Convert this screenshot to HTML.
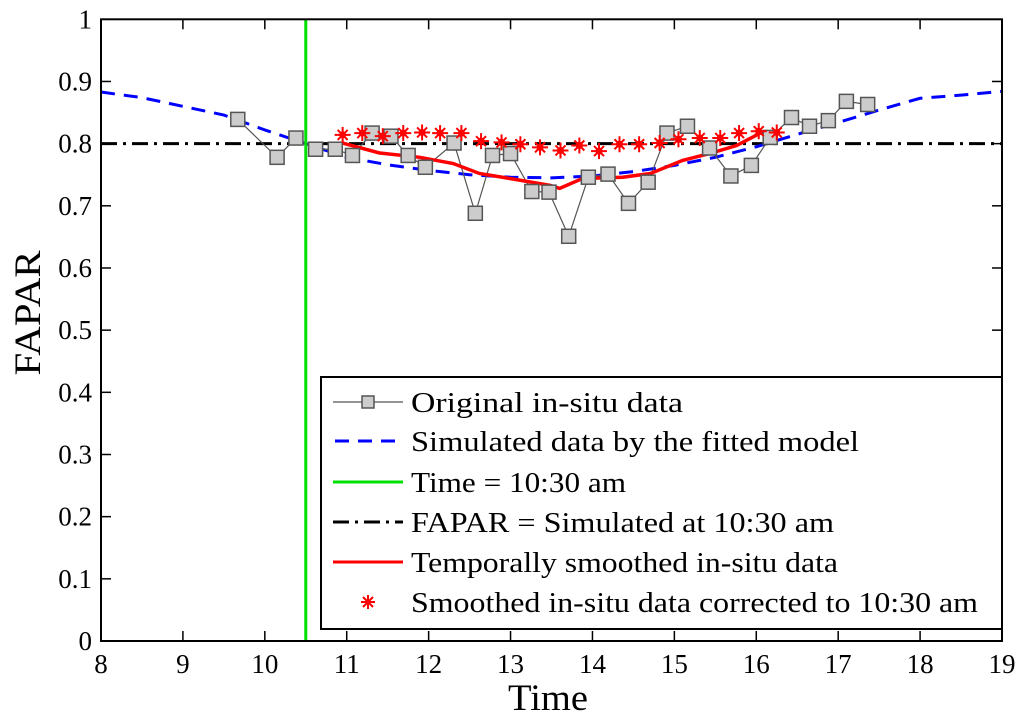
<!DOCTYPE html>
<html><head><meta charset="utf-8"><style>
body{margin:0;background:#fff;}
svg text{font-family:"Liberation Serif",serif;fill:#000;}
</style></head><body>
<svg id="chart" width="1024" height="721" xmlns="http://www.w3.org/2000/svg">
<rect x="101" y="19.3" width="901" height="621.7" fill="#fff"/>
<g id="series"></g>
<rect x="101" y="19.3" width="901" height="621.7" fill="none" stroke="#000" stroke-width="2"/>
<g id="ticks"></g>
<text x="0" y="0" font-size="37" text-anchor="middle" textLength="125" lengthAdjust="spacingAndGlyphs" transform="translate(40,313) rotate(-90)">FAPAR</text>
<text x="548" y="710" font-size="37" text-anchor="middle" textLength="80" lengthAdjust="spacingAndGlyphs">Time</text>
<g id="legend">
<rect x="321" y="377" width="681" height="252" fill="#fff" stroke="#000" stroke-width="2"/>
<g>
<line x1="333" y1="402" x2="403" y2="402" stroke="#555" stroke-width="1.3"/>
<rect x="362" y="396" width="12" height="12" fill="#ccc" stroke="#555" stroke-width="1.5"/>
<text x="411" y="412" font-size="29" textLength="272" lengthAdjust="spacingAndGlyphs">Original in-situ data</text></g>
<g>
<line x1="335" y1="441" x2="403" y2="441" stroke="#0000ff" stroke-width="3" stroke-dasharray="14,9"/>
<text x="411" y="451" font-size="29" textLength="448" lengthAdjust="spacingAndGlyphs">Simulated data by the fitted model</text></g>
<g>
<line x1="333" y1="482" x2="403" y2="482" stroke="#00e000" stroke-width="3"/>
<text x="411" y="492" font-size="29" textLength="215" lengthAdjust="spacingAndGlyphs">Time = 10:30 am</text></g>
<g>
<line x1="333" y1="522" x2="403" y2="522" stroke="#000" stroke-width="3" stroke-dasharray="16,6,3,6"/>
<text x="411" y="532" font-size="29" textLength="423" lengthAdjust="spacingAndGlyphs">FAPAR = Simulated at 10:30 am</text></g>
<g>
<line x1="333" y1="562" x2="403" y2="562" stroke="#ff0000" stroke-width="3"/>
<text x="411" y="572" font-size="29" textLength="427" lengthAdjust="spacingAndGlyphs">Temporally smoothed in-situ data</text></g>
<g stroke="#ff0000" stroke-width="2">
<line x1="361" y1="602" x2="375" y2="602"/><line x1="368" y1="595" x2="368" y2="609"/>
<line x1="363" y1="597" x2="373" y2="607"/><line x1="363" y1="607" x2="373" y2="597"/>
<text x="411" y="612" font-size="29" textLength="567" lengthAdjust="spacingAndGlyphs" stroke="none">Smoothed in-situ data corrected to 10:30 am</text></g>
</g>
</svg>
<script>
const xTicks=[8,9,10,11,12,13,14,15,16,17,18,19];
const yTicks=[0,0.1,0.2,0.3,0.4,0.5,0.6,0.7,0.8,0.9,1];
const yTickLabels=["0","0.1","0.2","0.3","0.4","0.5","0.6","0.7","0.8","0.9","1"];
const origT=[9.67,10.15,10.38,10.62,10.86,11.07,11.31,11.54,11.75,11.96,12.31,12.57,12.78,13.00,13.26,13.47,13.71,13.95,14.19,14.44,14.68,14.91,15.16,15.43,15.69,15.94,16.17,16.43,16.65,16.88,17.10,17.36];
const origV=[0.839,0.778,0.809,0.791,0.791,0.781,0.817,0.812,0.781,0.762,0.801,0.688,0.781,0.784,0.723,0.722,0.651,0.746,0.751,0.704,0.738,0.817,0.828,0.793,0.748,0.765,0.810,0.842,0.828,0.837,0.868,0.863];
const simT=[8,8.5,9,9.5,10,10.5,11,11.5,12,12.5,13,13.5,14,14.5,15,15.5,16,16.5,17,17.5,18,18.5,19];
const simV=[0.883,0.874,0.860,0.846,0.822,0.800,0.778,0.766,0.757,0.750,0.746,0.745,0.748,0.755,0.765,0.778,0.795,0.815,0.834,0.854,0.873,0.878,0.884];
const smT=[10.95,11.40,11.89,12.30,12.62,12.90,13.48,13.60,13.88,14.37,14.71,15.10,15.43,15.76,16.05,16.29];
const smV=[0.801,0.785,0.778,0.768,0.752,0.746,0.733,0.728,0.744,0.746,0.752,0.773,0.784,0.797,0.817,0.817];
const corT=[10.95,11.19,11.44,11.69,11.92,12.14,12.40,12.64,12.89,13.12,13.36,13.61,13.84,14.08,14.33,14.57,14.82,15.05,15.31,15.56,15.79,16.03,16.25];
const corV=[0.814,0.817,0.812,0.817,0.818,0.817,0.817,0.804,0.802,0.799,0.794,0.789,0.797,0.788,0.799,0.799,0.801,0.807,0.809,0.809,0.817,0.820,0.818];
const refTime=10.5;
const refFapar=0.8;

const NS="http://www.w3.org/2000/svg";
const X0=101,X1=1002,Y0=641,Y1=19.3;
function sx(t){return X0+(t-8)/11*(X1-X0);}
function sy(v){return Y0-v*(Y0-Y1);}
function mk(tag,attrs,parent){const e=document.createElementNS(NS,tag);for(const k in attrs)e.setAttribute(k,attrs[k]);parent.appendChild(e);return e;}
const ticks=document.getElementById('ticks');
const ser=document.getElementById('series');
xTicks.forEach((t,i)=>{
  if(i>0&&i<xTicks.length-1){
    const a=mk('line',{x1:sx(t),x2:sx(t),y1:Y0,y2:Y0-10,stroke:'#000','stroke-width':1.5},ticks);
    
    
    const b=mk('line',{x1:sx(t),x2:sx(t),y1:Y1,y2:Y1+10,stroke:'#000','stroke-width':1.5},ticks);
    
    
  }
  const l=mk('text',{x:sx(t),y:673,'font-size':27,'text-anchor':'middle'},ticks);
  l.textContent=String(t);
  
  
});
yTicks.forEach((v,i)=>{
  if(i>0&&i<yTicks.length-1){
    const a=mk('line',{x1:X0,x2:X0+10,y1:sy(v),y2:sy(v),stroke:'#000','stroke-width':1.5},ticks);
    
    
    const b=mk('line',{x1:X1,x2:X1-10,y1:sy(v),y2:sy(v),stroke:'#000','stroke-width':1.5},ticks);
    
    
  }
  const l=mk('text',{x:X0-9,y:sy(v)+9,'font-size':27,'text-anchor':'end'},ticks);
  l.textContent=yTickLabels[i];
  
  
});
function pts(T,V){return T.map((t,i)=>sx(t)+','+sy(V[i])).join(' ');}
const h=mk('line',{x1:X0,x2:X1,y1:sy(refFapar),y2:sy(refFapar),stroke:'#000','stroke-width':3,'stroke-dasharray':'16,6,3,6'},ser);


const s=mk('polyline',{points:pts(simT,simV),fill:'none',stroke:'#0000ff','stroke-width':3,'stroke-dasharray':'14,9'},ser);


const o=mk('polyline',{points:pts(origT,origV),fill:'none',stroke:'#555','stroke-width':1.2},ser);


const r=mk('polyline',{points:pts(smT,smV),fill:'none',stroke:'#ff0000','stroke-width':3.5},ser);


origT.forEach((t,i)=>{
  const q=mk('rect',{x:sx(t)-7,y:sy(origV[i])-7,width:14,height:14,fill:'#ccc',stroke:'#555','stroke-width':1.5},ser);
  
  
});
corT.forEach((t,i)=>{
  const g=mk('g',{stroke:'#ff0000','stroke-width':2},ser);
  
  
  const cx=sx(t),cy=sy(corV[i]),rr=8;
  mk('line',{x1:cx-rr,x2:cx+rr,y1:cy,y2:cy},g);
  mk('line',{x1:cx,x2:cx,y1:cy-rr,y2:cy+rr},g);
  mk('line',{x1:cx-5,x2:cx+5,y1:cy-5,y2:cy+5},g);
  mk('line',{x1:cx-5,x2:cx+5,y1:cy+5,y2:cy-5},g);
  mk('circle',{cx:cx,cy:cy,r:2.5,fill:'#ff0000'},g);
});
const gr=mk('line',{x1:sx(refTime),x2:sx(refTime),y1:Y1,y2:Y0,stroke:'#00e000','stroke-width':3},ser);


</script>
</body></html>
